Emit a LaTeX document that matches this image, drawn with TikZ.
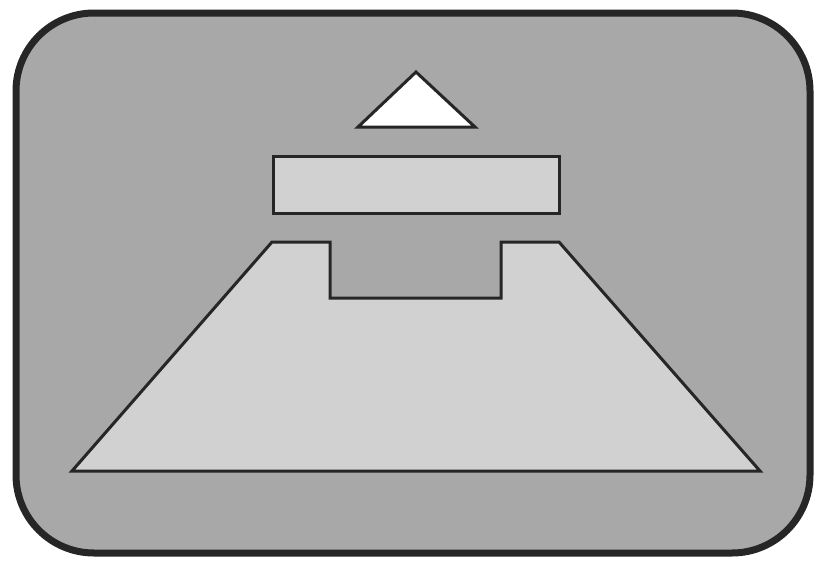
\documentclass[tikz,border=0pt]{standalone}
\begin{document}
\begin{tikzpicture}[x=1pt,y=-1pt,
  frame/.style={draw=black!85,line width=7pt,fill=bggray,rounded corners=78pt},
  part/.style={draw=black!85,line width=3pt,line join=miter,fill=lightpart},
  apex/.style={draw=black!85,line width=3pt,line join=miter,fill=white}]
\definecolor{bggray}{gray}{0.66}
\definecolor{lightpart}{gray}{0.82}
\useasboundingbox (0,0) rectangle (817,562);
\fill[white] (0,0) rectangle (817,562);
\path[frame] (16,13) rectangle (810,553);
\path[apex] (416,72) -- (475,127) -- (358,127) -- cycle;
\path[part] (273,156) rectangle (559,213);
\path[part] (272,242) -- (330,242) -- (330,298) -- (501,298) -- (501,242)
  -- (559,242) -- (760,471) -- (72,471) -- cycle;
\end{tikzpicture}
\end{document}
